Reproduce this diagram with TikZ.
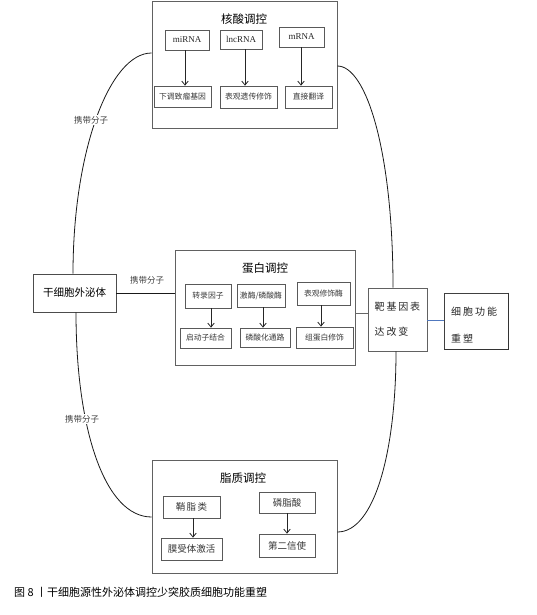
\documentclass[tikz,border=0pt]{standalone}
\usepackage{fontspec}
\setmainfont{Liberation Serif}
\newfontfamily\cjk{Noto Sans CJK SC}
\usetikzlibrary{arrows.meta}
\begin{document}
\begin{tikzpicture}[x=1pt,y=-1pt,
  obox/.style={draw=black!62,line width=0.8pt,inner sep=0pt},
  ibox/.style={draw=black!65,line width=0.7pt,inner sep=0pt,text=black!78,font=\cjk\fontsize{7.8}{9}\selectfont},
  lbox/.style={draw=black!65,line width=0.7pt,inner sep=0pt,text=black!78,font=\cjk\fontsize{9.5}{11}\selectfont},
  latin/.style={draw=black!65,line width=0.7pt,inner sep=0pt,text=black!85,font=\fontsize{9}{11}\selectfont},
  ttl/.style={inner sep=1pt,font=\cjk\fontsize{11.5}{13}\selectfont},
  carry/.style={inner sep=1.5pt,fill=white,text=black!75,font=\cjk\fontsize{8.5}{10}\selectfont},
  arr/.style={-{Straight Barb[length=4pt,width=6.5pt]},line width=0.8pt,black!85},
  link/.style={line width=0.8pt,black!90},
  glink/.style={line width=0.8pt,black!60}
]
\useasboundingbox (0,0) rectangle (537,615);

% nucleic acid regulation
\node[obox,minimum width=185pt,minimum height=127pt] (nuc) at (244.5,64.5) {};
\node[ttl] (nuct) at (244,19) {核酸调控};
\node[latin,minimum width=44pt,minimum height=20pt] (mi) at (187,40) {miRNA};
\node[latin,minimum width=42pt,minimum height=19pt] (lnc) at (241,39.5) {lncRNA};
\node[latin,minimum width=45pt,minimum height=20pt] (mr) at (301.5,37) {mRNA};
\node[ibox,minimum width=57pt,minimum height=21pt] (d1) at (182.5,96.5) {下调致瘤基因};
\node[ibox,minimum width=57pt,minimum height=22pt] (d2) at (248.5,97) {表观遗传修饰};
\node[ibox,minimum width=47pt,minimum height=22pt] (d3) at (308.5,97) {直接翻译};
\draw[arr] (mi.south -| 185,0) -- (185,0 |- d1.north);
\draw[arr] (lnc.south -| 245,0) -- (245,0 |- d2.north);
\draw[arr] (mr.south -| 301,0) -- (301,0 |- d3.north);

% exosome
\node[obox,draw=black!70,minimum width=83pt,minimum height=38pt,font=\cjk\fontsize{10.5}{12}\selectfont] (exo) at (74.5,293) {干细胞外泌体};

% protein regulation
\node[obox,minimum width=180pt,minimum height=115pt] (prot) at (265,307.5) {};
\node[ttl] (prott) at (265,268) {蛋白调控};
\node[ibox,minimum width=46pt,minimum height=24pt] (tf) at (208,296) {转录因子};
\node[ibox,minimum width=48pt,minimum height=23pt] (kin) at (261,295.5) {激酶/磷酸酶};
\node[ibox,minimum width=53pt,minimum height=23pt] (epi) at (323.5,293.5) {表观修饰酶};
\node[ibox,minimum width=51pt,minimum height=20pt] (p1) at (205.5,338) {启动子结合};
\node[ibox,minimum width=50pt,minimum height=19pt] (p2) at (265,337.5) {磷酸化通路};
\node[ibox,minimum width=57pt,minimum height=21pt] (p3) at (324.5,337.5) {组蛋白修饰};
\draw[arr] (tf.south -| 211,0) -- (211,0 |- p1.north);
\draw[arr] (kin.south -| 263,0) -- (263,0 |- p2.north);
\draw[arr] (epi.south -| 321,0) -- (321,0 |- p3.north);

% target gene and function
\node[obox,minimum width=59pt,minimum height=63pt] (tgt) at (397.5,319.5) {};
\node[anchor=west,inner sep=0pt,align=left,text=black!85,font=\cjk\fontsize{10}{25}\selectfont] (tgtt) at (374.5,319.5)
  {靶\kern1.8pt 基\kern1.8pt 因\kern1.8pt 表\\达\kern1.8pt 改\kern1.8pt 变};
\node[obox,draw=black!75,minimum width=64pt,minimum height=56pt] (fun) at (476,321) {};
\draw[line width=1.3pt,black!80] (fun.north east) -- (fun.south east) -- (fun.south west);
\node[anchor=west,inner sep=0pt,align=left,text=black!85,font=\cjk\fontsize{10}{27}\selectfont] (funt) at (451,325.5)
  {细\kern2pt 胞\kern2pt 功\kern2pt 能\\重\kern2pt 塑};

% lipid regulation
\node[obox,minimum width=185pt,minimum height=113pt] (lip) at (244.5,516.5) {};
\node[ttl] (lipt) at (243,478) {脂质调控};
\node[lbox,minimum width=57pt,minimum height=22pt] (sph) at (191.5,507) {鞘\kern1.5pt 脂\kern1.5pt 类};
\node[lbox,minimum width=56pt,minimum height=21pt] (pa) at (287,502.5) {磷脂酸};
\node[lbox,minimum width=61pt,minimum height=22pt] (mra) at (191.5,549) {膜受体激活};
\node[lbox,minimum width=56pt,minimum height=23pt] (sm) at (287,545.5) {第二信使};
\draw[arr] (sph.south -| 193,0) -- (193,0 |- mra.north);
\draw[arr] (pa) -- (pa |- sm.north);

% connectors
\draw[link] (nuc.west |- 0,53) .. controls (110,53) and (73,150) .. (exo.north -| 73,0);
\draw[link] (nuc.east |- 0,66) .. controls (366,66) and (393,150) .. (tgt.north -| 393,0);
\draw[link] (exo.south -| 76,0) .. controls (76,430) and (105,517) .. (lip.west |- 0,517);
\draw[link] (tgt.south -| 396,0) .. controls (396,450) and (375,532) .. (lip.east |- 0,532);
\draw[link] (exo.east) -- (exo.east -| prot.west);
\draw[glink] (prot.east |- 0,313) -- (tgt.west |- 0,313);
\draw[line width=0.9pt,color={rgb,255:red,80;green,120;blue,190}] (tgt.east |- 0,320) -- (fun.west |- 0,320);

\node[carry] (c1) at (91,120) {携带分子};
\node[carry,fill=none] (c2) at (147,280) {携带分子};
\node[carry] (c3) at (82,419) {携带分子};

% caption
\node[anchor=west,inner sep=0pt,font=\cjk\fontsize{11}{13}\selectfont] (cap) at (14,592) {图 8 丨干细胞源性外泌体调控少突胶质细胞功能重塑};
\end{tikzpicture}
\end{document}
